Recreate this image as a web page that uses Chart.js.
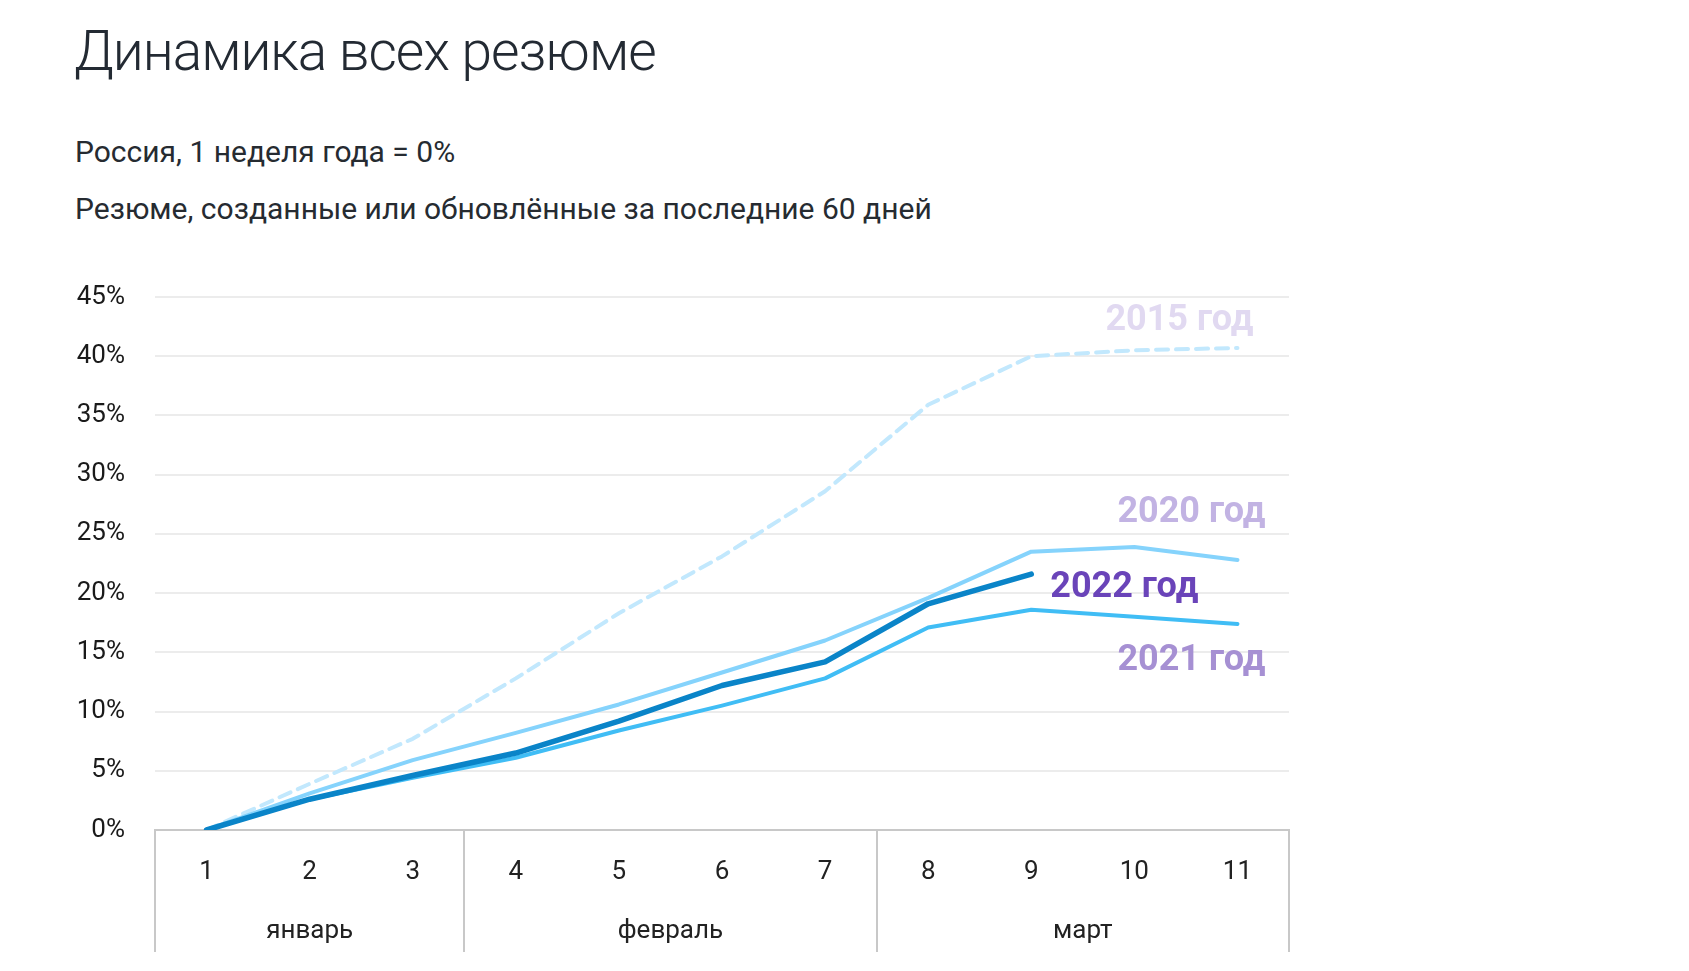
<!DOCTYPE html>
<html>
<head>
<meta charset="utf-8">
<script src="https://cdn.jsdelivr.net/npm/chart.js@4"></script>
<style>
  html, body { margin: 0; padding: 0; background: #fff; }
  body { width: 1689px; height: 971px; position: relative; overflow: hidden; font-family: Roboto, "Noto Sans", sans-serif; color: #232a33; }
  .title { position: absolute; left: 74px; top: 24px; font-size: 55px; font-weight: 300; line-height: 1; letter-spacing: -1px; }
  .sub { position: absolute; left: 75px; font-size: 30px; font-weight: 400; line-height: 1; color: #262b31; }
  #chartWrap { position: absolute; left: 0; top: 0; width: 1689px; height: 971px; }
</style>
</head>
<body>
<div class="title">Динамика всех резюме</div>
<div class="sub" style="top:137px">Россия, 1 неделя года = 0%</div>
<div class="sub" style="top:194px">Резюме, созданные или обновлённые за последние 60 дней</div>
<div id="chartWrap"><canvas id="chart"></canvas></div>
<script>
// weeks of the year
const weeks = ['1', '2', '3', '4', '5', '6', '7', '8', '9', '10', '11'];
const monthNames = ['январь', 'февраль', 'март'];
const monthSpans = [3, 4, 4];

// growth vs week 1, %
const y2022 = [0, 2.6, 4.6, 6.5, 9.2, 12.2, 14.2, 19.1, 21.6];
const y2021 = [0, 2.6, 4.4, 6.1, 8.4, 10.5, 12.8, 17.1, 18.6, 18.0, 17.4];
const y2020 = [0, 3.1, 5.9, 8.2, 10.6, 13.3, 16.0, 19.6, 23.5, 23.9, 22.8];
const y2015 = [0, 3.9, 7.7, 12.8, 18.3, 23.1, 28.6, 35.9, 40.0, 40.5, 40.7];

const yTicks = [0, 5, 10, 15, 20, 25, 30, 35, 40, 45];

const seriesNames = ['2022 год', '2021 год', '2020 год', '2015 год'];
const labelColors = ['#6a44b9', '#a690d3', '#c2b3e3', '#e1d9f1'];
// where each end label sits relative to its last point
const labelOffsets = [
  { dx: 19, dy: 14, align: 'left' },
  { dx: 28, dy: 37, align: 'right' },
  { dx: 28, dy: -47, align: 'right' },
  { dx: 16, dy: -27, align: 'right' }
];

const endLabels = {
  id: 'endLabels',
  afterDatasetsDraw(chart) {
    const ctx = chart.ctx;
    ctx.save();
    ctx.font = 'bold 36px Roboto';
    ctx.textBaseline = 'middle';
    chart.data.datasets.forEach((ds, i) => {
      const meta = chart.getDatasetMeta(i);
      const last = meta.data[meta.data.length - 1];
      const o = labelOffsets[i];
      ctx.fillStyle = labelColors[i];
      ctx.textAlign = o.align;
      ctx.fillText(seriesNames[i], last.x + o.dx, last.y + o.dy);
    });
    ctx.restore();
  }
};

const monthBands = {
  id: 'monthBands',
  afterDraw(chart) {
    const ctx = chart.ctx;
    const x = chart.scales.x;
    const top = x.top;
    const bottom = x.bottom;
    ctx.save();
    ctx.strokeStyle = '#c8c8c8';
    ctx.lineWidth = 2;
    let start = 0;
    const edges = [x.getPixelForValue(-0.5)];
    monthSpans.forEach((span, i) => {
      const left = x.getPixelForValue(start - 0.5);
      const right = x.getPixelForValue(start + span - 0.5);
      edges.push(right);
      ctx.fillStyle = '#222';
      ctx.font = '26px Roboto';
      ctx.textAlign = 'center';
      ctx.textBaseline = 'middle';
      ctx.fillText(monthNames[i], (left + right) / 2, top + 101);
      start += span;
    });
    edges.forEach(px => {
      ctx.beginPath();
      ctx.moveTo(Math.round(px), top);
      ctx.lineTo(Math.round(px), bottom);
      ctx.stroke();
    });
    ctx.restore();
  }
};

new Chart(document.getElementById('chart'), {
  type: 'line',
  data: {
    labels: weeks,
    datasets: [
      { data: y2022, borderColor: '#0a84c8', borderWidth: 5.5 },
      { data: y2021, borderColor: '#40bdf5', borderWidth: 4 },
      { data: y2020, borderColor: '#85d3fc', borderWidth: 4 },
      { data: y2015, borderColor: '#c2e8fd', borderWidth: 4, borderDash: [12, 8] }
    ]
  },
  options: {
    responsive: true,
    maintainAspectRatio: false,
    animation: false,
    events: [],
    elements: {
      point: { radius: 0 },
      line: { tension: 0, borderCapStyle: 'round', borderJoinStyle: 'round', fill: false }
    },
    layout: { padding: { top: 297, left: 0, right: 400, bottom: 19 } },
    plugins: { legend: { display: false }, tooltip: { enabled: false } },
    scales: {
      x: {
        offset: true,
        grid: { display: false, drawTicks: false },
        border: { display: true, color: '#c8c8c8', width: 2 },
        ticks: { color: '#222', font: { family: 'Roboto', size: 26 }, padding: 27, maxRotation: 0 },
        afterFit: s => { s.height = 122; }
      },
      y: {
        min: 0,
        max: 45,
        afterBuildTicks: s => { s.ticks = yTicks.map(v => ({ value: v })); },
        grid: { color: '#ececec', lineWidth: 2, drawTicks: false },
        border: { display: false },
        ticks: { color: '#1a1a1a', font: { family: 'Roboto', size: 26 }, padding: 30, callback: v => v + '%' },
        afterFit: s => { s.width = 155; }
      }
    }
  },
  plugins: [endLabels, monthBands]
});
</script>
</body>
</html>
